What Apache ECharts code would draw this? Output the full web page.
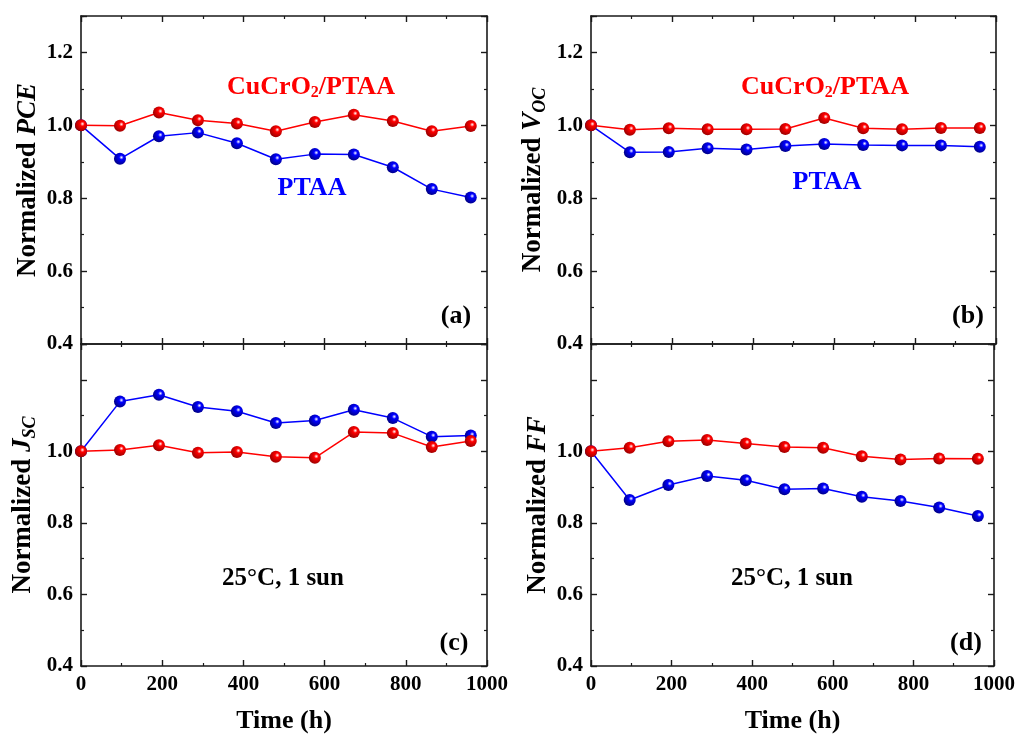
<!doctype html>
<html>
<head>
<meta charset="UTF-8">
<title>Stability</title>
<script src="https://cdn.jsdelivr.net/npm/echarts@6/dist/echarts.min.js"></script>
<style>
  html, body { margin: 0; padding: 0; background: #fff; }
</style>
</head>
<body>
<div id="chart" style="width: 1018px; height: 735px;"></div>
<script>
    // time points (h)
    var hours = [0, 96, 192, 288, 384, 480, 576, 672, 768, 864, 960];

    // (a) PCE
    var pceCu   = [1.000, 0.999, 1.035, 1.014, 1.005, 0.984, 1.009, 1.029, 1.012, 0.984, 0.998];
    var pcePtaa = [1.000, 0.908, 0.970, 0.980, 0.951, 0.907, 0.921, 0.920, 0.885, 0.825, 0.802];
    // (b) Voc
    var vocCu   = [1.000, 0.988, 0.992, 0.989, 0.989, 0.990, 1.020, 0.992, 0.989, 0.993, 0.993];
    var vocPtaa = [1.000, 0.926, 0.927, 0.937, 0.934, 0.943, 0.949, 0.946, 0.945, 0.945, 0.941];
    // (c) Jsc
    var jscCu   = [1.000, 1.004, 1.017, 0.996, 0.998, 0.985, 0.982, 1.054, 1.051, 1.012, 1.029];
    var jscPtaa = [1.000, 1.139, 1.158, 1.124, 1.112, 1.079, 1.086, 1.116, 1.093, 1.041, 1.044];
    // (d) FF
    var ffCu    = [1.000, 1.010, 1.028, 1.032, 1.022, 1.012, 1.010, 0.986, 0.977, 0.980, 0.979];
    var ffPtaa  = [1.000, 0.864, 0.906, 0.931, 0.919, 0.894, 0.896, 0.873, 0.861, 0.843, 0.819];

    var topYLabels = ['0.4', '0.6', '0.8', '1.0', '1.2'];
    var bottomYLabels = ['0.4', '0.6', '0.8', '1.0'];
    var xTickLabels = ['0', '200', '400', '600', '800', '1000'];

    var FONT = "'Times New Roman', 'Liberation Serif', serif";
    var RED = '#ff0000';
    var BLUE = '#0000ff';
    var AXIS = '#1a1a1a';

    var chart = echarts.init(document.getElementById('chart'));

    function pairs(vals) {
        return hours.map(function (h, i) { return [h, vals[i]]; });
    }

    function ball(c, dark) {
        return {
            type: 'radial', x: 0.62, y: 0.38, r: 0.62,
            colorStops: [
                { offset: 0, color: '#ffffff' },
                { offset: 0.3, color: c },
                { offset: 1, color: dark }
            ]
        };
    }

    // fresh style objects for every axis
    function axLine() { return { show: true, onZero: false, lineStyle: { color: AXIS, width: 1.6 } }; }
    function axTick() { return { show: true, inside: true, length: 6, lineStyle: { color: AXIS, width: 1.4 } }; }
    function axMinor() { return { show: true, splitNumber: 2, length: 3, lineStyle: { color: AXIS, width: 1.2 } }; }

    var panels = [
        { left: 81, top: 16, width: 406, height: 328, bottom: false, gap: 39, name: 'Normalized {i|PCE}', labels: topYLabels, cu: pceCu, pt: pcePtaa },
        { left: 591, top: 16, width: 405, height: 328, bottom: false, gap: 42, name: 'Normalized {i|V}{sub|OC}', labels: topYLabels, cu: vocCu, pt: vocPtaa },
        { left: 81, top: 344, width: 406, height: 328, bottom: true, gap: 42, name: 'Normalized {i|J}{sub|SC}', labels: bottomYLabels, cu: jscCu, pt: jscPtaa },
        { left: 591, top: 344, width: 405, height: 328, bottom: true, gap: 39, name: 'Normalized {i|FF}', labels: bottomYLabels, cu: ffCu, pt: ffPtaa }
    ];

    var grid = [], xAxis = [], yAxis = [], series = [];

    panels.forEach(function (p, k) {
        grid.push({ left: p.left, top: p.top, width: p.width, height: p.height });

        xAxis.push({
            type: 'value', gridIndex: k, position: 'bottom', min: 0, max: 1000, interval: 200,
            axisLine: axLine(), axisTick: axTick(), minorTick: axMinor(),
            splitLine: { show: false },
            axisLabel: {
                show: p.bottom, margin: 8, color: '#000', fontFamily: FONT, fontWeight: 'bold', fontSize: 21,
                formatter: function (v) { return xTickLabels.indexOf(String(v)) >= 0 ? String(v) : ''; }
            },
            name: p.bottom ? 'Time (h)' : '', nameLocation: 'middle', nameGap: 42,
            nameTextStyle: { color: '#000', fontFamily: FONT, fontWeight: 'bold', fontSize: 26 }
        });
        xAxis.push({
            type: 'value', gridIndex: k, position: 'top', min: 0, max: 1000, interval: 200,
            axisLine: axLine(), axisTick: axTick(), minorTick: axMinor(),
            splitLine: { show: false }, axisLabel: { show: false }
        });

        var labs = p.labels;
        yAxis.push({
            type: 'value', gridIndex: k, position: 'left', min: 0.4, max: 1.3, interval: 0.2,
            axisLine: axLine(), axisTick: axTick(), minorTick: axMinor(),
            splitLine: { show: false },
            axisLabel: {
                margin: 8, color: '#000', fontFamily: FONT, fontWeight: 'bold', fontSize: 21,
                formatter: function (v) {
                    var s = v.toFixed(1);
                    return labs.indexOf(s) >= 0 && Math.abs(v - parseFloat(s)) < 1e-6 ? s : '';
                }
            },
            name: p.name, nameLocation: 'middle', nameRotate: 90, nameGap: p.gap,
            nameTextStyle: {
                color: '#000', fontFamily: FONT, fontWeight: 'bold', fontSize: 27,
                rich: {
                    i: { fontFamily: FONT, fontWeight: 'bold', fontStyle: 'italic', fontSize: 27, color: '#000' },
                    sub: { fontFamily: FONT, fontWeight: 'bold', fontStyle: 'italic', fontSize: 18, color: '#000',
                           verticalAlign: 'bottom', padding: [14, 0, 0, 0] }
                }
            }
        });
        yAxis.push({
            type: 'value', gridIndex: k, position: 'right', min: 0.4, max: 1.3, interval: 0.2,
            axisLine: axLine(), axisTick: axTick(), minorTick: axMinor(),
            splitLine: { show: false }, axisLabel: { show: false }
        });

        series.push({
            type: 'line', xAxisIndex: 2 * k, yAxisIndex: 2 * k, data: pairs(p.pt),
            symbol: 'circle', symbolSize: 12,
            lineStyle: { color: BLUE, width: 1.5 },
            itemStyle: { color: ball(BLUE, '#00008a') }
        });
        series.push({
            type: 'line', xAxisIndex: 2 * k, yAxisIndex: 2 * k, data: pairs(p.cu),
            symbol: 'circle', symbolSize: 12,
            lineStyle: { color: RED, width: 1.5 },
            itemStyle: { color: ball(RED, '#a00000') }
        });
    });

    function label(x, y, text, color, size, rich) {
        return {
            type: 'text', x: x, y: y, z: 100,
            style: {
                text: text, fill: color, align: 'center', verticalAlign: 'middle',
                textAlign: 'center', textVerticalAlign: 'middle',
                fontFamily: FONT, fontWeight: 'bold', fontSize: size, rich: rich
            }
        };
    }

    var subRich = {
        sub: { fontFamily: FONT, fontWeight: 'bold', fontSize: 16, fill: RED, color: RED,
               verticalAlign: 'bottom', padding: [12, 0, 0, 0] }
    };

    var graphic = [
        label(311, 87, 'CuCrO{sub|2}/PTAA', RED, 26, subRich),
        label(312, 188, 'PTAA', BLUE, 26),
        label(825, 87, 'CuCrO{sub|2}/PTAA', RED, 26, subRich),
        label(827, 182, 'PTAA', BLUE, 26),
        label(283, 579, '25\u00B0C, 1 sun', '#000', 25),
        label(792, 579, '25\u00B0C, 1 sun', '#000', 25),
        label(456, 316, '(a)', '#000', 26),
        label(968, 316, '(b)', '#000', 26),
        label(454, 643, '(c)', '#000', 26),
        label(966, 643, '(d)', '#000', 26)
    ];

    chart.setOption({
        animation: false,
        backgroundColor: '#fff',
        grid: grid,
        xAxis: xAxis,
        yAxis: yAxis,
        series: series,
        graphic: graphic
    });
</script>
</body>
</html>
